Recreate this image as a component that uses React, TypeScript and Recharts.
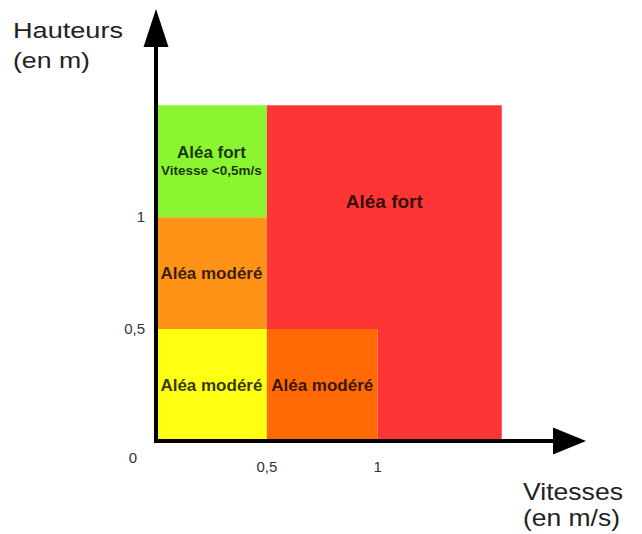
import { ComposedChart, XAxis, YAxis, ReferenceArea, ReferenceLine, ReferenceDot, Scatter } from "recharts"

// hauteur (m) en y, vitesse (m/s) en x
const xTicks = [0.5, 1]
const yTicks = [0, 0.5, 1]
const xArrowEnd = 1.94
const yArrowEnd = 1.93

const zones = [
  { id: "jaune", x1: 0, x2: 0.5, y1: 0, y2: 0.5, lines: ["Aléa modéré"] },
  { id: "orangeFonce", x1: 0.5, x2: 1, y1: 0, y2: 0.5, lines: ["Aléa modéré"] },
  { id: "orange", x1: 0, x2: 0.5, y1: 0.5, y2: 1, lines: ["Aléa modéré"] },
  { id: "vert", x1: 0, x2: 0.5, y1: 1, y2: 1.5, lines: ["Aléa fort", "Vitesse <0,5m/s"] },
  { id: "rougeHaut", x1: 0.5, x2: 1.56, y1: 0.5, y2: 1.5, lines: ["Aléa fort"] },
  { id: "rougeBas", x1: 1, x2: 1.56, y1: 0, y2: 0.5, lines: [] as string[] },
]

const colors: Record<string, string> = {
  jaune: "#ffff14",
  orangeFonce: "#ff6a06",
  orange: "#ff9318",
  vert: "#8af530",
  rougeHaut: "#fe3535",
  rougeBas: "#fe3535",
}

// coins des zones, pour que les axes aient des données
const corners = zones.flatMap((z) => [
  { x: z.x1, y: z.y1 },
  { x: z.x2, y: z.y2 },
])

const font = "'Liberation Sans', Arial, sans-serif"
const fmt = (v: number) => String(v).replace(".", ",")

function zoneLabel(viewBox: any, z: (typeof zones)[number]) {
  if (!viewBox || z.lines.length === 0) return null
  const cx = viewBox.x + viewBox.width / 2
  const cy = viewBox.y + viewBox.height / 2
  if (z.lines.length === 2) {
    return (
      <g fontFamily={font} fontWeight="bold" fill="#000" fillOpacity={0.8} textAnchor="middle">
        <text x={cx} y={cy - 3} fontSize={17}>{z.lines[0]}</text>
        <text x={cx} y={cy + 14} fontSize={13.5}>{z.lines[1]}</text>
      </g>
    )
  }
  const big = z.id === "rougeHaut"
  return (
    <text
      x={cx}
      y={big ? cy - 9 : cy + 6}
      fontFamily={font}
      fontWeight="bold"
      fontSize={big ? 19 : 17}
      fill="#000"
      fillOpacity={0.8}
      textAnchor="middle"
    >
      {z.lines[0]}
    </text>
  )
}

function YTick(props: any) {
  const { x, y, payload } = props
  const zero = payload.value === 0
  return (
    <text
      x={zero ? x - 8 : x}
      y={zero ? y + 17 : y}
      dy="0.35em"
      textAnchor="end"
      fontFamily={font}
      fontSize={15}
      fill="#333"
    >
      {fmt(payload.value)}
    </text>
  )
}

export default function App() {
  return (
    <div style={{ position: "absolute", left: 0, top: 0, background: "#fff" }}>
      <ComposedChart width={642} height={534} data={corners} margin={{ top: 9, right: 56, bottom: 0, left: 0 }}>
        <XAxis
          type="number"
          dataKey="x"
          domain={[0, xArrowEnd]}
          allowDataOverflow
          ticks={xTicks}
          tickFormatter={fmt}
          axisLine={false}
          tickLine={false}
          tickMargin={14}
          height={93}
          tick={{ fontSize: 15, fill: "#333", fontFamily: font }}
          label={{
            content: () => (
              <g fontFamily={font} fontSize={24} fill="#222">
                <text x={523} y={500} textLength={100} lengthAdjust="spacingAndGlyphs">Vitesses</text>
                <text x={523} y={526} textLength={97} lengthAdjust="spacingAndGlyphs">(en m/s)</text>
              </g>
            ),
          }}
        />
        <YAxis
          type="number"
          dataKey="y"
          domain={[0, yArrowEnd]}
          allowDataOverflow
          ticks={yTicks}
          axisLine={false}
          tickLine={false}
          tickMargin={5}
          width={156}
          tick={<YTick />}
          label={{
            content: () => (
              <g fontFamily={font} fontSize={22} fill="#222">
                <text x={13} y={38} textLength={110} lengthAdjust="spacingAndGlyphs">Hauteurs</text>
                <text x={13} y={68} textLength={77} lengthAdjust="spacingAndGlyphs">(en m)</text>
              </g>
            ),
          }}
        />
        <Scatter dataKey="y" fill="none" shape={() => <g />} isAnimationActive={false} legendType="none" />
        {zones.map((z) => (
          <ReferenceArea
            key={z.id}
            x1={z.x1}
            x2={z.x2}
            y1={z.y1}
            y2={z.y2}
            fill={colors[z.id]}
            fillOpacity={1}
            stroke="none"
            ifOverflow="visible"
            label={(p: any) => zoneLabel(p.viewBox, z)}
          />
        ))}
        <ReferenceLine
          segment={[{ x: 0, y: 0 }, { x: 1.86, y: 0 }]}
          stroke="#000"
          strokeWidth={4}
          strokeLinecap="square"
          ifOverflow="visible"
        />
        <ReferenceLine
          segment={[{ x: 0, y: 0 }, { x: 0, y: 1.85 }]}
          stroke="#000"
          strokeWidth={4}
          strokeLinecap="square"
          ifOverflow="visible"
        />
        <ReferenceDot
          x={xArrowEnd}
          y={0}
          ifOverflow="visible"
          shape={(p: any) => (
            <polygon points={`${p.cx},${p.cy} ${p.cx - 33},${p.cy - 13.5} ${p.cx - 33},${p.cy + 13.5}`} fill="#000" />
          )}
        />
        <ReferenceDot
          x={0}
          y={yArrowEnd}
          ifOverflow="visible"
          shape={(p: any) => (
            <polygon points={`${p.cx},${p.cy} ${p.cx - 12.5},${p.cy + 38} ${p.cx + 12.5},${p.cy + 38}`} fill="#000" />
          )}
        />
      </ComposedChart>
    </div>
  )
}
